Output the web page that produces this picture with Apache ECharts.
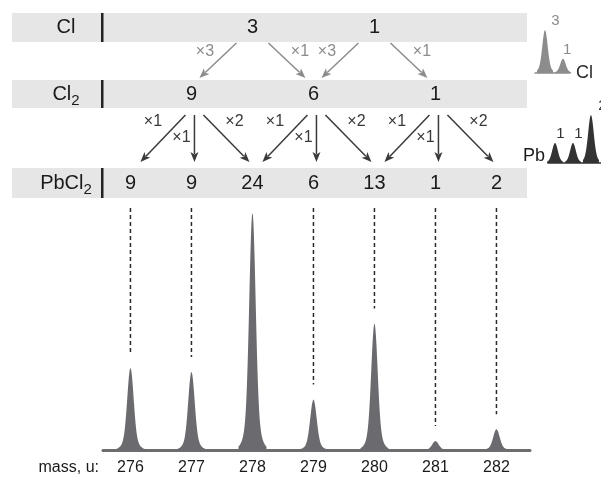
<!DOCTYPE html>
<html><head><meta charset="utf-8">
<script src="https://cdn.jsdelivr.net/npm/echarts@6/dist/echarts.min.js"></script>
<style>html,body{margin:0;padding:0;background:#fff}#c{width:601px;height:479px}</style>
</head><body><div id="c"></div>
<script>
// ---------------- data ----------------
const masses = [276, 277, 278, 279, 280, 281, 282];
const massLabels = ['276', '277', '278', '279', '280', '281', '282'];
const spectrumIntensity = [8.3, 7.9, 24, 5.1, 12.8, 0.9, 2.1];

const rowNames = ['Cl', 'Cl{s|2}', 'PbCl{s|2}'];
const clColumns = [278, 280];
const clCounts = [3, 1];
const cl2Columns = [277, 279, 281];
const cl2Counts = [9, 6, 1];
const pbcl2Counts = [9, 9, 24, 6, 13, 1, 2];
const clToCl2Factors = [[3, 1], [3, 1]];          // each Cl entry: to left, to right
const cl2ToPbFactors = [[1, 1, 2], [1, 1, 2], [1, 1, 2]]; // each Cl2 entry: left, down, right

const clIsotopeMass = [35, 37];
const clIsotopeAbund = [3, 1];
const clIsotopeLabels = ['3', '1'];
const pbIsotopeMass = [206, 207, 208];
const pbIsotopeAbund = [1, 1, 2.4];
const pbIsotopeLabels = ['1', '1', '2'];

// ---------------- layout / style ----------------
const FONT = "'Liberation Sans', Arial, Helvetica, sans-serif";
const ROW_Y = [27.5, 94, 183];
const BANDS = [[13, 42], [80, 108], [168, 198]];
const BAND_X = [12, 527];
const BAND_COLOR = '#e6e6e6';
const PEAK = '#6b6b6f';
const GRAY = '#8c8c8c';
const DARK = '#3a3a3a';
const DASH_TOP = 208;

function peakPoints(cx, yb, h, sigma, span) {
  const pts = [[cx - span, yb]];
  const s1 = 2 * sigma * sigma, s2 = 2 * (2.1 * sigma) * (2.1 * sigma);
  for (let d = -span; d <= span + 1e-6; d += 0.5) {
    const f = 0.86 * Math.exp(-d * d / s1) + 0.14 * Math.exp(-d * d / s2);
    pts.push([cx + d, yb - h * f]);
  }
  pts.push([cx + span, yb]);
  return pts;
}

// tree number data
const treeData = [];
clColumns.forEach((m, i) => treeData.push([m, 0, clCounts[i]]));
cl2Columns.forEach((m, i) => treeData.push([m, 1, cl2Counts[i]]));
masses.forEach((m, i) => treeData.push([m, 2, pbcl2Counts[i]]));

// arrows: [fromColumn, toColumn, level, factor]
const arrowData = [];
clColumns.forEach((m, i) => {
  arrowData.push([m, m - 1, 0, clToCl2Factors[i][0]]);
  arrowData.push([m, m + 1, 0, clToCl2Factors[i][1]]);
});
cl2Columns.forEach((m, i) => {
  arrowData.push([m, m - 1, 1, cl2ToPbFactors[i][0]]);
  arrowData.push([m, m, 1, cl2ToPbFactors[i][1]]);
  arrowData.push([m, m + 1, 1, cl2ToPbFactors[i][2]]);
});

function renderArrow(params, api) {
  const xs = api.coord([api.value(0), 0])[0];
  const xt = api.coord([api.value(1), 0])[0];
  const level = api.value(2);
  const factor = api.value(3);
  const dir = Math.sign(xt - xs);
  let x0, y0, x1, y1, lx, ly;
  const color = level === 0 ? GRAY : DARK;
  if (level === 0) {
    x0 = xs + dir * 16; y0 = 43; x1 = xt - dir * 8; y1 = 78;
    lx = (x0 + x1) / 2 + dir * 13; ly = 52;
  } else {
    y0 = 115; y1 = 162;
    if (dir === 0) { x0 = xs + 3; x1 = x0; lx = x0 - 13; ly = 138; }
    else if (dir < 0) { x0 = xs - 6; x1 = xt + 10; lx = (x0 + x1) / 2 - 10; ly = 122; }
    else { x0 = xs + 12; x1 = xt - 3; lx = (x0 + x1) / 2 + 8; ly = 122; }
  }
  const len = Math.hypot(x1 - x0, y1 - y0);
  const ux = (x1 - x0) / len, uy = (y1 - y0) / len;
  const hl = 10, hw = 4;
  const bx = x1 - ux * hl, by = y1 - uy * hl;
  return {
    type: 'group',
    children: [
      { type: 'line', shape: { x1: x0, y1: y0, x2: bx + ux * 2, y2: by + uy * 2 }, style: { stroke: color, lineWidth: 1.5 } },
      { type: 'polygon', shape: { points: [[x1, y1], [bx - uy * hw, by + ux * hw], [bx + ux * 2.5, by + uy * 2.5], [bx + uy * hw, by - ux * hw]] }, style: { fill: color } },
      { type: 'text', style: { text: '\u00d7' + factor, x: lx, y: ly, align: 'center', verticalAlign: 'middle', fontSize: 16, fontFamily: FONT, fill: color } }
    ]
  };
}

function renderTree(params, api) {
  const x = api.coord([api.value(0), 0])[0];
  return {
    type: 'text',
    style: { text: String(api.value(2)), x: x, y: ROW_Y[api.value(1)], align: 'center', verticalAlign: 'middle', fontSize: 20, fontFamily: FONT, fill: '#1a1a1a' }
  };
}

function renderPeak(params, api) {
  const base = api.coord([api.value(0), 0]);
  const top = api.coord([api.value(0), api.value(1)]);
  const h = base[1] - top[1];
  const children = [{ type: 'polygon', shape: { points: peakPoints(base[0], base[1], h, 3.1, 14) }, style: { fill: PEAK } }];
  const dashEnd = top[1] - 15;
  if (dashEnd - DASH_TOP > 6) {
    children.push({ type: 'line', shape: { x1: base[0], y1: DASH_TOP, x2: base[0], y2: dashEnd }, style: { stroke: '#2a2a2a', lineWidth: 1.5, lineDash: [4, 3] } });
  }
  return { type: 'group', children };
}

function makeInsetRenderer(labels, color, labelColor, sigma) {
  return function (params, api) {
    const base = api.coord([api.value(0), 0]);
    const top = api.coord([api.value(0), api.value(1)]);
    const h = base[1] - top[1];
    return {
      type: 'group',
      children: [
        { type: 'polygon', shape: { points: peakPoints(base[0], base[1], h, sigma, 8) }, style: { fill: color } },
        { type: 'text', style: { text: labels[params.dataIndex], x: top[0] + 0.22 * h + 1, y: top[1] - 9, align: 'center', verticalAlign: 'middle', fontSize: 15, fontFamily: FONT, fill: labelColor } }
      ]
    };
  };
}

// graphic decorations
const graphics = [];
BANDS.forEach((b, i) => {
  graphics.push({ type: 'rect', shape: { x: BAND_X[0], y: b[0], width: BAND_X[1] - BAND_X[0], height: b[1] - b[0] }, style: { fill: BAND_COLOR }, z: 0 });
  graphics.push({ type: 'rect', shape: { x: 101, y: b[0], width: 2.5, height: b[1] - b[0] }, style: { fill: '#222' }, z: 1 });
  graphics.push({
    type: 'text', x: 66, y: (b[0] + b[1]) / 2, z: 1,
    style: {
      text: rowNames[i], align: 'center', verticalAlign: 'middle', fontSize: 20, fontFamily: FONT, fill: '#1a1a1a',
      rich: { s: { fontSize: 15, fontFamily: FONT, fill: '#1a1a1a', padding: [13, 0, 0, 0] } }
    }
  });
});
graphics.push({ type: 'text', x: 99, y: 468, style: { text: 'mass, u:', align: 'right', verticalAlign: 'middle', fontSize: 16, fontFamily: FONT, fill: '#1a1a1a' } });
graphics.push({ type: 'text', x: 576, y: 73, style: { text: 'Cl', align: 'left', verticalAlign: 'middle', fontSize: 18, fontFamily: FONT, fill: '#2a2a2a' } });
graphics.push({ type: 'text', x: 545, y: 156, style: { text: 'Pb', align: 'right', verticalAlign: 'middle', fontSize: 18, fontFamily: FONT, fill: '#1a1a1a' } });

const chart = echarts.init(document.getElementById('c'), null, { renderer: 'canvas' });
chart.setOption({
  animation: false,
  backgroundColor: '#fff',
  grid: [
    { left: 103, width: 427, top: 203, height: 247 },
    { left: 535, width: 35, top: 30, height: 43 },
    { left: 548, width: 53, top: 115, height: 48 }
  ],
  xAxis: [
    {
      gridIndex: 0, type: 'value', min: 275.55, max: 282.55,
      axisLine: { show: true, onZero: false, lineStyle: { color: '#6d6d70', width: 3 } },
      axisTick: { show: false }, splitLine: { show: false },
      axisLabel: { customValues: masses, formatter: v => massLabels[masses.indexOf(v)], fontSize: 16, fontFamily: FONT, color: '#1a1a1a', margin: 10 }
    },
    {
      gridIndex: 1, type: 'value', min: 33.89, max: 37.78,
      axisLine: { show: true, onZero: false, lineStyle: { color: GRAY, width: 1.5 } },
      axisTick: { show: false }, splitLine: { show: false }, axisLabel: { show: false }
    },
    {
      gridIndex: 2, type: 'value', min: 205.61, max: 208.56,
      axisLine: { show: true, onZero: false, lineStyle: { color: '#333', width: 1.5 } },
      axisTick: { show: false }, splitLine: { show: false }, axisLabel: { show: false }
    }
  ],
  yAxis: [
    { gridIndex: 0, type: 'value', min: 0, max: 25, show: false },
    { gridIndex: 1, type: 'value', min: 0, max: 3, show: false },
    { gridIndex: 2, type: 'value', min: 0, max: 2.4, show: false }
  ],
  graphic: graphics,
  series: [
    { type: 'custom', xAxisIndex: 0, yAxisIndex: 0, clip: false, renderItem: renderPeak,
      data: masses.map((m, i) => [m, spectrumIntensity[i]]), z: 3 },
    { type: 'custom', xAxisIndex: 0, yAxisIndex: 0, clip: false, renderItem: renderTree,
      encode: { x: 0, y: 1 }, data: treeData, z: 4 },
    { type: 'custom', xAxisIndex: 0, yAxisIndex: 0, clip: false, renderItem: renderArrow,
      encode: { x: 0, y: 2 }, data: arrowData, z: 4 },
    { type: 'custom', xAxisIndex: 1, yAxisIndex: 1, clip: false,
      renderItem: makeInsetRenderer(clIsotopeLabels, GRAY, GRAY, 2.6),
      data: clIsotopeMass.map((m, i) => [m, clIsotopeAbund[i]]) },
    { type: 'custom', xAxisIndex: 2, yAxisIndex: 2, clip: false,
      renderItem: makeInsetRenderer(pbIsotopeLabels, '#333', '#333', 2.7),
      data: pbIsotopeMass.map((m, i) => [m, pbIsotopeAbund[i]]) }
  ]
});
</script>
</body></html>
